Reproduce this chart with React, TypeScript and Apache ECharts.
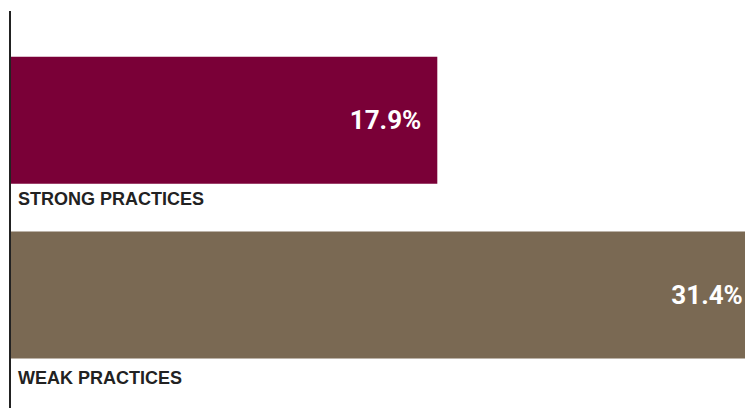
import React, { useEffect, useRef } from "react";
import * as echarts from "echarts";

const categories = ["STRONG PRACTICES", "WEAK PRACTICES"];
const values = [17.9, 31.4];
const barColors = ["#7a0037", "#7a6953"];
const labelShift = [158, 166];

export default function App() {
  const ref = useRef<HTMLDivElement>(null);
  useEffect(() => {
    const chart = echarts.init(ref.current!, null, { renderer: "svg" });
    const rich: any = {};
    labelShift.forEach((s, i) => {
      rich["c" + i] = {
        fontFamily: "Liberation Sans",
        fontWeight: "bold",
        fontSize: 18,
        color: "#222222",
        padding: [s, 0, 0, 0],
      };
    });
    chart.setOption({
      animation: false,
      grid: { left: 11, right: 0, top: 32.8, bottom: 25.6, containLabel: false },
      xAxis: {
        type: "value",
        min: 0,
        max: 30.82,
        show: false,
      },
      yAxis: {
        type: "category",
        inverse: true,
        data: categories,
        axisLine: { show: false },
        axisTick: { show: false },
        axisLabel: {
          inside: true,
          margin: 7,
          align: "left",
          verticalAlign: "middle",
          formatter: (v: string, i: number) => `{c${i}|${v}}`,
          rich,
        },
        z: 10,
      },
      series: [
        {
          type: "bar",
          barWidth: 127,
          clip: false,
          data: values.map((v, i) => ({ value: v, itemStyle: { color: barColors[i] } })),
          label: {
            show: true,
            position: "insideRight",
            distance: 16,
            formatter: (p: any) => p.value.toFixed(1) + "%",
            color: "#ffffff",
            fontFamily: "Roboto",
            fontWeight: "bold",
            fontSize: 26,
          },
        },
      ],
      graphic: [
        {
          type: "line",
          shape: { x1: 10, y1: 11, x2: 10, y2: 408 },
          style: { stroke: "#222222", lineWidth: 2 },
          z: 100,
        },
      ],
    });
    return () => chart.dispose();
  }, []);
  return <div ref={ref} style={{ width: 745, height: 408, position: "absolute", left: 0, top: 0 }} />;
}
